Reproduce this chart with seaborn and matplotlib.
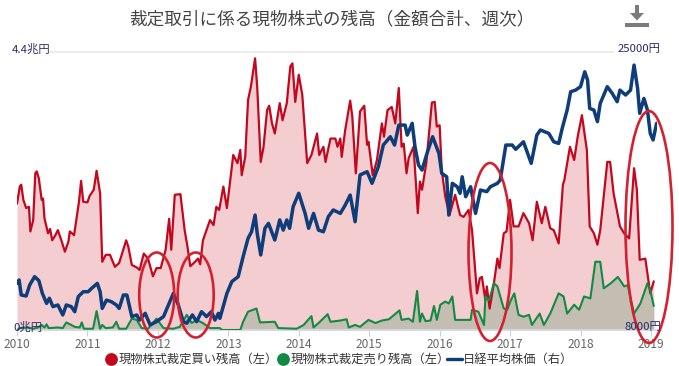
import pandas as pd
import matplotlib
matplotlib.use("Agg")
import matplotlib.pyplot as plt
import seaborn as sns
from matplotlib.patches import Ellipse, Polygon, Rectangle

# --- Data ---
buy_t = [
    2010.00, 2010.04, 2010.06, 2010.09, 2010.13, 2010.17, 2010.19, 2010.23, 2010.26, 2010.28,
    2010.31, 2010.35, 2010.37, 2010.39, 2010.44, 2010.47, 2010.50, 2010.54, 2010.58, 2010.63,
    2010.68, 2010.73, 2010.75, 2010.81, 2010.88, 2010.91, 2010.94, 2011.00, 2011.03, 2011.09,
    2011.13, 2011.18, 2011.21, 2011.26, 2011.32, 2011.39, 2011.45, 2011.55, 2011.58, 2011.63,
    2011.70, 2011.74, 2011.80, 2011.86, 2011.93, 2011.98, 2012.04, 2012.11, 2012.16, 2012.19,
    2012.24, 2012.32, 2012.38, 2012.42, 2012.46, 2012.51, 2012.57, 2012.60, 2012.64, 2012.74,
    2012.79, 2012.83, 2012.87, 2012.93, 2012.98, 2013.07, 2013.13, 2013.17, 2013.19, 2013.24,
    2013.28, 2013.32, 2013.38, 2013.41, 2013.46, 2013.50, 2013.55, 2013.58, 2013.62, 2013.66,
    2013.73, 2013.77, 2013.83, 2013.88, 2013.91, 2013.95, 2014.00, 2014.05, 2014.12, 2014.18,
    2014.26, 2014.29, 2014.35, 2014.38, 2014.45, 2014.52, 2014.55, 2014.59,
    2014.61, 2014.66, 2014.73, 2014.76, 2014.81, 2014.87, 2014.93, 2014.97, 2014.99, 2015.05,
    2015.11, 2015.18, 2015.21, 2015.26, 2015.32, 2015.37, 2015.42, 2015.46, 2015.49, 2015.53,
    2015.56, 2015.63, 2015.69, 2015.72, 2015.75, 2015.81, 2015.89, 2015.93, 2015.96, 2016.00,
    2016.03, 2016.08, 2016.14, 2016.22, 2016.29, 2016.34, 2016.41, 2016.46, 2016.53, 2016.57,
    2016.60, 2016.65, 2016.67, 2016.71, 2016.77, 2016.82, 2016.85, 2016.91, 2016.95, 2017.00,
    2017.05, 2017.12, 2017.19, 2017.27, 2017.32, 2017.38, 2017.45, 2017.50, 2017.57, 2017.62,
    2017.69, 2017.75, 2017.77, 2017.85, 2017.91, 2017.96, 2018.02, 2018.09, 2018.13, 2018.19,
    2018.24, 2018.28, 2018.38, 2018.42, 2018.47, 2018.56, 2018.62, 2018.69, 2018.76, 2018.80,
    2018.84, 2018.92, 2018.99, 2019.04,
]
buy_val = [
    2.00, 2.27, 2.30, 2.06, 1.93, 1.95, 1.56, 1.74, 2.48, 2.51,
    2.40, 2.06, 2.08, 1.77, 1.53, 1.60, 1.42, 1.49, 1.58, 1.42,
    1.24, 1.40, 1.56, 1.50, 2.03, 2.36, 2.03, 2.02, 2.12, 2.22,
    2.52, 2.16, 1.08, 1.19, 1.19, 1.00, 1.06, 1.42, 1.32, 1.03,
    0.99, 0.95, 1.21, 1.13, 0.85, 0.98, 0.98, 1.27, 1.76, 1.27,
    2.14, 2.15, 1.58, 1.32, 1.01, 1.06, 1.13, 1.04, 1.42, 1.74,
    1.66, 1.95, 1.90, 2.27, 1.93, 2.77, 2.64, 2.85, 2.45, 2.74,
    3.64, 3.85, 4.30, 3.85, 2.66, 2.90, 3.48, 3.55, 3.27, 3.11,
    3.59, 3.32, 3.59, 4.17, 4.22, 3.61, 4.04, 3.72, 2.64, 2.77,
    3.11, 2.77, 2.90, 2.66, 3.03, 3.03, 2.90, 3.03,
    2.74, 3.17, 3.63, 3.38, 2.48, 3.46, 3.55, 2.93, 2.98, 2.45,
    2.69, 3.27, 3.06, 3.48, 3.53, 3.27, 3.83, 2.90, 2.95, 2.48,
    2.72, 2.90, 1.85, 2.35, 2.22, 2.64, 3.60, 3.61, 3.22, 3.24,
    2.53, 2.11, 1.82, 2.14, 1.82, 1.79, 1.90, 1.58, 0.58, 0.82,
    0.84, 0.47, 0.69, 0.34, 0.74, 1.13, 0.98, 1.53, 1.56, 2.06,
    1.64, 1.64, 1.85, 1.69, 1.42, 2.03, 1.69, 1.95, 1.61, 1.58,
    1.37, 2.30, 2.37, 2.90, 2.69, 3.06, 3.40, 2.85, 1.64, 1.53,
    1.35, 1.58, 2.66, 2.66, 2.16, 1.64, 1.53, 1.45, 2.56, 2.22,
    1.11, 1.13, 0.58, 0.77,
]

sell_t = [
    2010.00, 2010.04, 2010.16, 2010.23, 2010.30, 2010.35, 2010.39, 2010.42, 2010.45, 2010.58,
    2010.65, 2010.70, 2010.77, 2010.82, 2010.89, 2010.92, 2010.95, 2011.08, 2011.13, 2011.18,
    2011.21, 2011.26, 2011.36, 2011.41, 2011.45, 2011.55, 2011.63, 2011.70, 2011.77, 2011.86,
    2011.98, 2012.08, 2012.22, 2012.31, 2012.41, 2012.48, 2012.55, 2012.64, 2012.74, 2012.88,
    2012.91, 2013.17, 2013.21, 2013.28, 2013.40, 2013.45, 2013.66, 2013.71, 2013.97, 2014.07,
    2014.18, 2014.21, 2014.30, 2014.41, 2014.45, 2014.59,
    2014.68, 2014.71, 2014.80, 2014.87, 2014.99, 2015.09, 2015.18, 2015.28, 2015.43, 2015.46,
    2015.56, 2015.62, 2015.68, 2015.72, 2015.75, 2015.80, 2015.87, 2015.92, 2015.96, 2016.01,
    2016.08, 2016.13, 2016.18, 2016.22, 2016.44, 2016.46, 2016.55, 2016.63, 2016.65, 2016.70,
    2016.77, 2016.82, 2016.91, 2016.96, 2017.01, 2017.06, 2017.12, 2017.19, 2017.27, 2017.31,
    2017.42, 2017.48, 2017.57, 2017.69, 2017.76, 2017.81, 2017.91, 2017.98, 2018.05, 2018.14,
    2018.21, 2018.28, 2018.33, 2018.43, 2018.53, 2018.62, 2018.67, 2018.76, 2018.85, 2018.95,
    2018.99, 2019.04,
]
sell_val = [
    0.00, 0.03, 0.04, 0.02, 0.04, 0.08, 0.04, 0.09, 0.03, 0.04,
    0.03, 0.12, 0.08, 0.05, 0.04, 0.12, 0.02, 0.02, 0.30, 0.02,
    0.08, 0.03, 0.04, 0.13, 0.02, 0.02, 0.18, 0.16, 0.03, 0.02,
    0.18, 0.03, 0.02, 0.05, 0.24, 0.11, 0.16, 0.11, 0.03, 0.03,
    0.00, 0.00, 0.13, 0.29, 0.34, 0.12, 0.13, 0.03, 0.02, 0.08,
    0.22, 0.04, 0.13, 0.25, 0.13, 0.15,
    0.17, 0.04, 0.08, 0.05, 0.16, 0.11, 0.15, 0.17, 0.31, 0.16,
    0.18, 0.13, 0.62, 0.13, 0.26, 0.14, 0.15, 0.38, 0.16, 0.40,
    0.45, 0.42, 0.53, 0.16, 0.16, 0.32, 0.29, 0.08, 0.53, 0.47,
    0.74, 0.69, 0.34, 0.32, 0.47, 0.58, 0.24, 0.21, 0.24, 0.08,
    0.26, 0.08, 0.26, 0.58, 0.53, 0.26, 0.40, 0.32, 0.53, 0.50,
    1.08, 1.08, 0.66, 0.74, 0.84, 0.69, 0.71, 0.26, 0.42, 0.74,
    0.63, 0.38,
]

nikkei_t = [
    2010.00, 2010.03, 2010.06, 2010.13, 2010.18, 2010.25, 2010.31, 2010.36, 2010.42, 2010.46,
    2010.51, 2010.58, 2010.65, 2010.70, 2010.77, 2010.82, 2010.87, 2010.94, 2011.01, 2011.06,
    2011.14, 2011.18, 2011.21, 2011.27, 2011.34, 2011.41, 2011.45, 2011.51, 2011.56, 2011.63,
    2011.70, 2011.74, 2011.82, 2011.89, 2011.98, 2012.08, 2012.15, 2012.22, 2012.29, 2012.36,
    2012.41, 2012.49, 2012.55, 2012.62, 2012.69, 2012.76, 2012.81, 2012.86, 2012.88, 2012.98,
    2013.05, 2013.14, 2013.21, 2013.28, 2013.33, 2013.38, 2013.41, 2013.46, 2013.52, 2013.57,
    2013.66, 2013.73, 2013.78, 2013.83, 2013.87, 2013.92, 2014.00, 2014.09, 2014.14, 2014.21,
    2014.28, 2014.35, 2014.42, 2014.49, 2014.59,
    2014.66, 2014.73, 2014.80, 2014.87, 2014.97, 2015.04, 2015.13, 2015.20, 2015.30, 2015.36,
    2015.42, 2015.51, 2015.54, 2015.61, 2015.65, 2015.70, 2015.75, 2015.82, 2015.90, 2015.99,
    2016.03, 2016.10, 2016.13, 2016.18, 2016.25, 2016.29, 2016.32, 2016.37, 2016.44, 2016.51,
    2016.58, 2016.67, 2016.72, 2016.82, 2016.86, 2016.94, 2017.03, 2017.08, 2017.19, 2017.30,
    2017.38, 2017.43, 2017.55, 2017.62, 2017.69, 2017.74, 2017.81, 2017.86, 2017.93, 2018.00,
    2018.06, 2018.10, 2018.13, 2018.19, 2018.24, 2018.28, 2018.38, 2018.45, 2018.52, 2018.56,
    2018.64, 2018.71, 2018.76, 2018.81, 2018.84, 2018.90, 2018.95, 2018.99, 2019.03, 2019.08,
]
nikkei_val = [
    10850, 11060, 10140, 10080, 10750, 11260, 11020, 10240, 9630, 9940,
    9430, 9530, 8920, 9530, 9430, 9120, 10040, 10340, 10340, 10550,
    10850, 10340, 9320, 9830, 9730, 9530, 9320, 10140, 10140, 8820,
    8920, 8610, 9020, 8310, 8510, 8820, 9530, 10240, 9530, 8510,
    8410, 8920, 8510, 9120, 8820, 9120, 8610, 9020, 8710, 10240,
    10960, 11260, 12480, 13600, 14010, 15030, 13910, 12590, 14220, 14520,
    13500, 14730, 14110, 14730, 14220, 15540, 16360, 15130, 14220, 15130,
    14110, 14010, 14930, 15340, 15130,
    15640, 16250, 14620, 17480, 17680, 16970, 17990, 19310, 19820, 19310,
    20530, 20530, 19920, 20640, 19210, 18090, 17780, 18800, 19820, 18800,
    17580, 17370, 15030, 16970, 16760, 16360, 17370, 16150, 16760, 15130,
    16560, 16460, 16760, 16970, 17170, 19310, 19310, 19050, 19510, 18190,
    19920, 20230, 20020, 19510, 19410, 20330, 21450, 22570, 22670, 22880,
    23790, 23290, 21550, 21450, 20740, 21860, 22880, 22470, 21960, 22670,
    22370, 22670, 24200, 22780, 21250, 22160, 21450, 20020, 19620, 20640,
]

years = [2010, 2011, 2012, 2013, 2014, 2015, 2016, 2017, 2018, 2019]
title = "裁定取引に係る現物株式の残高（金額合計、週次）"
buy_label = "現物株式裁定買い残高（左）"
sell_label = "現物株式裁定売り残高（左）"
nikkei_label = "日経平均株価（右）"

# --- Settings ---
W, H = 679, 366
RED = "#c3071e"
GREEN = "#128a44"
NAVY = "#0e3d7a"
CIRCLE = "#d3212f"
LABEL = "#2b2a6b"

sns.set_theme(style="white")
plt.rcParams["font.family"] = ["Noto Sans CJK JP", "DejaVu Sans"]

fig = plt.figure(figsize=(W / 100, H / 100), dpi=100)
ax = fig.add_axes([17 / W, 1 - 330 / H, 640 / W, 278 / H])

buy = pd.DataFrame({"t": buy_t, "v": buy_val})
sell = pd.DataFrame({"t": sell_t, "v": sell_val})
nikkei = pd.DataFrame({"t": nikkei_t, "v": nikkei_val})

# --- Left axis: buy / sell balances ---
ax.fill_between(buy["t"], buy["v"], color="#f4cdd0", lw=0, zorder=1)
ax.fill_between(sell["t"], sell["v"], color="#c4bdb1", lw=0, zorder=2)
sns.lineplot(data=buy, x="t", y="v", ax=ax, color=RED, linewidth=1.6, zorder=3)
sns.lineplot(data=sell, x="t", y="v", ax=ax, color=GREEN, linewidth=1.5, zorder=4)
ax.set_xlim(2010, 2010 + 640 / 70.44)
ax.set_ylim(0, 4.4)
ax.set_xlabel("")
ax.set_ylabel("")
ax.set_yticks([])
ax.set_xticks(years)
ax.set_xticklabels([str(y) for y in years], fontsize=8.6, color="#666666")
ax.tick_params(axis="x", length=4, width=0.8, color="#c6d2e4", pad=1.5, bottom=True)
ax.axhline(4.4, xmin=33 / 640, xmax=596 / 640, color="#e8e8ee", lw=1.2, clip_on=False, zorder=0)
for side in ["top", "left", "right"]:
    ax.spines[side].set_visible(False)
ax.spines["bottom"].set_color("#d5dbe6")
ax.patch.set_alpha(0)

# --- Right axis: Nikkei ---
ax2 = ax.twinx()
sns.lineplot(data=nikkei, x="t", y="v", ax=ax2, color=NAVY, linewidth=2.5, zorder=5)
ax2.set_ylim(8000, 25000)
ax2.set_ylabel("")
ax2.set_yticks([])
for side in ["top", "left", "right", "bottom"]:
    ax2.spines[side].set_visible(False)

# --- Overlay in picture pixels: title, labels, legend, hand drawn circles ---
top = fig.add_axes([0, 0, 1, 1])
top.set_xlim(0, W)
top.set_ylim(H, 0)
top.axis("off")
top.patch.set_alpha(0)

top.text(332, 19, title, fontsize=12.7, color="#444444", ha="center", va="center")
top.text(12, 49, "4.4兆円", fontsize=8.2, color=LABEL, ha="left", va="center")
top.text(13, 327, "0兆円", fontsize=8.2, color=LABEL, ha="left", va="center")
top.text(661, 49, "25000円", fontsize=8.2, color=LABEL, ha="right", va="center")
top.text(661, 327, "8000円", fontsize=8.2, color=LABEL, ha="right", va="center")

for cx, cy, w, h in [(156.7, 295, 35, 85), (195.7, 295, 36, 85), (490, 252, 43, 178), (649, 227, 47, 232)]:
    top.add_patch(Ellipse((cx, cy), w, h, fill=False, ec=CIRCLE, lw=1.9))

# download icon
icon = "#7b7b7b"
top.add_patch(Rectangle((625, 23), 24, 3.5, color=icon, lw=0))
top.add_patch(Rectangle((635.2, 5), 3.6, 9, color=icon, lw=0))
top.add_patch(Polygon([(630, 13), (644, 13), (637, 20.5)], color=icon, lw=0))

# legend
top.scatter([111], [359], s=85, color=RED, lw=0)
top.text(119, 359, buy_label, fontsize=8.8, color="#333333", ha="left", va="center")
top.scatter([283], [359], s=85, color=GREEN, lw=0)
top.text(291, 359, sell_label, fontsize=8.8, color="#333333", ha="left", va="center")
top.plot([447, 462], [359, 359], color=NAVY, lw=2.4)
top.text(463, 359, nikkei_label, fontsize=8.8, color="#333333", ha="left", va="center")

fig.savefig("out.png", dpi=100)
